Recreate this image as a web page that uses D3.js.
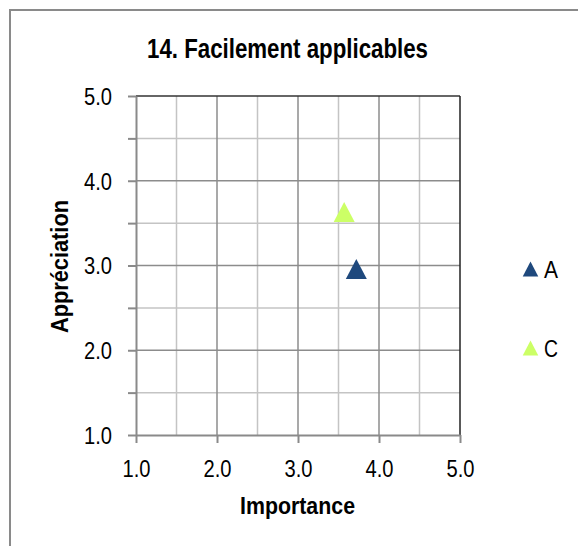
<!DOCTYPE html>
<html>
<head>
<meta charset="utf-8">
<script src="https://cdn.jsdelivr.net/npm/d3@7"></script>
<style>
  html, body { margin: 0; padding: 0; background: #fff; }
  svg { display: block; }
  text { font-family: "Liberation Sans", Arial, sans-serif; fill: #000; }
</style>
</head>
<body>
<svg id="chart" width="578" height="546"></svg>
<script>
// ---- data ----
const titleText = "14. Facilement applicables";
const xTitle = "Importance";
const yTitle = "Appréciation";
const seriesNames = ["A", "C"];
const seriesColors = ["#1F497D", "#CCFF66"];
const importance = [3.72, 3.57];
const appreciation = [2.96, 3.63];
const majorTicks = [1, 2, 3, 4, 5];
const minorTicks = [1.5, 2.5, 3.5, 4.5];

// ---- layout ----
const W = 578, H = 546;
const plot = { left: 136, right: 460, top: 96, bottom: 435 };
const svg = d3.select("#chart");

// outer frame (cut off at the right and bottom edges like the reference)
svg.append("rect")
  .attr("x", 10).attr("y", 10).attr("width", 700).attr("height", 700)
  .attr("fill", "none").attr("stroke", "#8a8a8a").attr("stroke-width", 2);

const x = d3.scaleLinear().domain([1, 5]).range([plot.left, plot.right]);
const y = d3.scaleLinear().domain([1, 5]).range([plot.bottom, plot.top]);

// helper to squeeze text horizontally (narrow font look)
function squeezeTo(sel, targetWidth) {
  sel.each(function () {
    const t = d3.select(this);
    const w = this.getComputedTextLength();
    if (w > 0) t.attr("textLength", targetWidth).attr("lengthAdjust", "spacingAndGlyphs");
  });
}

// gridlines
const grid = svg.append("g");
grid.selectAll("line.vmin").data(minorTicks).join("line")
  .attr("x1", d => x(d)).attr("x2", d => x(d))
  .attr("y1", plot.top).attr("y2", plot.bottom)
  .attr("stroke", "#c4c4c4").attr("stroke-width", 1.5);
grid.selectAll("line.hmin").data(minorTicks).join("line")
  .attr("y1", d => y(d)).attr("y2", d => y(d))
  .attr("x1", plot.left).attr("x2", plot.right)
  .attr("stroke", "#c4c4c4").attr("stroke-width", 1.5);
grid.selectAll("line.vmaj").data(majorTicks.slice(1, -1)).join("line")
  .attr("x1", d => x(d)).attr("x2", d => x(d))
  .attr("y1", plot.top).attr("y2", plot.bottom)
  .attr("stroke", "#8c8c8c").attr("stroke-width", 1.5);
grid.selectAll("line.hmaj").data(majorTicks.slice(1, -1)).join("line")
  .attr("y1", d => y(d)).attr("y2", d => y(d))
  .attr("x1", plot.left).attr("x2", plot.right)
  .attr("stroke", "#8c8c8c").attr("stroke-width", 1.5);

// top and right borders (dark)
svg.append("line").attr("x1", plot.left).attr("x2", plot.right)
  .attr("y1", plot.top).attr("y2", plot.top)
  .attr("stroke", "#333").attr("stroke-width", 1.5);
svg.append("line").attr("x1", plot.right).attr("x2", plot.right)
  .attr("y1", plot.top).attr("y2", plot.bottom)
  .attr("stroke", "#222").attr("stroke-width", 1.5);

// axes
const tickVals = majorTicks.concat(minorTicks).sort((a, b) => a - b);
const xAxis = svg.append("g").attr("transform", `translate(0,${plot.bottom})`)
  .call(d3.axisBottom(x).tickValues(majorTicks).tickSize(8).tickSizeOuter(0).tickFormat(d3.format(".1f")));
const yAxis = svg.append("g").attr("transform", `translate(${plot.left},0)`)
  .call(d3.axisLeft(y).tickValues(tickVals).tickSize(8).tickSizeOuter(0)
    .tickFormat(d => Number.isInteger(d) ? d3.format(".1f")(d) : ""));

[xAxis, yAxis].forEach(a => {
  a.select(".domain").attr("stroke", "#8a8a8a").attr("stroke-width", 2);
  a.selectAll(".tick line").attr("stroke", "#8a8a8a").attr("stroke-width", 2);
  a.selectAll("text").style("font-family", '"Liberation Sans", Arial, sans-serif')
    .style("font-size", "23px").attr("fill", "#000");
});
xAxis.selectAll(".tick text").attr("y", 0).attr("dy", null)
  .attr("transform", "translate(0,42)");
yAxis.selectAll(".tick text").attr("x", -24).attr("dy", "0.36em");
xAxis.selectAll(".tick text").call(squeezeTo, 28);
yAxis.selectAll(".tick text").filter(function () { return this.textContent !== ""; }).call(squeezeTo, 28);

// title
svg.append("text").attr("x", 287.5).attr("y", 58)
  .attr("text-anchor", "middle").style("font-size", "27px").style("font-weight", "bold")
  .text(titleText).call(squeezeTo, 281);

// axis titles
svg.append("text").attr("x", 297.5).attr("y", 514)
  .attr("text-anchor", "middle").style("font-size", "23px").style("font-weight", "bold")
  .text(xTitle).call(squeezeTo, 115);
svg.append("text")
  .attr("transform", `translate(68,266.5) rotate(-90)`)
  .attr("text-anchor", "middle").style("font-size", "23px").style("font-weight", "bold")
  .text(yTitle).call(squeezeTo, 133);

// triangle path with bbox centred on (0,0)
function tri(w, h) {
  const p = d3.path();
  p.moveTo(0, -h / 2); p.lineTo(w / 2, h / 2); p.lineTo(-w / 2, h / 2); p.closePath();
  return p.toString();
}

// points
const pts = seriesNames.map((n, i) => ({ name: n, x: importance[i], y: appreciation[i], color: seriesColors[i] }));
svg.append("g").selectAll("path").data(pts).join("path")
  .attr("d", tri(21, 20))
  .attr("transform", d => `translate(${x(d.x)},${y(d.y)})`)
  .attr("fill", d => d.color);

// legend
const legendY = d3.scalePoint().domain(seriesNames).range([269, 348]);
const lg = svg.append("g");
lg.selectAll("path").data(pts).join("path")
  .attr("d", tri(15.5, 15))
  .attr("transform", d => `translate(530.5,${legendY(d.name)})`)
  .attr("fill", d => d.color);
lg.selectAll("text").data(pts).join("text")
  .attr("x", 544).attr("y", d => legendY(d.name) + 8.5)
  .style("font-size", "23px")
  .text(d => d.name)
  .call(squeezeTo, 14);
</script>
</body>
</html>
